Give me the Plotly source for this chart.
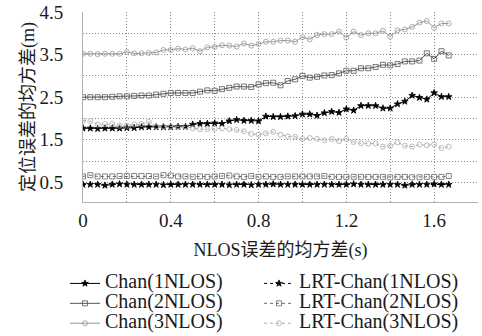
import plotly.graph_objects as go

x_vals = [i / 30 for i in range(51)]

chan1 = [1.77, 1.77, 1.76, 1.77, 1.77, 1.77, 1.78, 1.78, 1.80, 1.80,
         1.80, 1.80, 1.80, 1.81, 1.81, 1.86, 1.88, 1.88, 1.89, 1.88,
         1.94, 1.97, 1.95, 1.95, 1.94, 2.05, 2.04, 2.04, 2.05, 2.06,
         2.10, 2.10, 2.07, 2.13, 2.16, 2.14, 2.22, 2.19, 2.30, 2.30,
         2.30, 2.24, 2.24, 2.34, 2.40, 2.54, 2.49, 2.45, 2.60, 2.51,
         2.51]
chan2 = [2.50, 2.50, 2.50, 2.50, 2.51, 2.52, 2.52, 2.53, 2.54, 2.54,
         2.56, 2.58, 2.60, 2.60, 2.60, 2.60, 2.63, 2.66, 2.65, 2.69,
         2.72, 2.75, 2.75, 2.74, 2.80, 2.83, 2.84, 2.78, 2.88, 2.92,
         3.00, 2.96, 2.98, 3.01, 3.02, 3.06, 3.12, 3.12, 3.18, 3.18,
         3.21, 3.26, 3.25, 3.28, 3.34, 3.34, 3.36, 3.53, 3.40, 3.58,
         3.48]
chan3 = [3.52, 3.52, 3.51, 3.52, 3.52, 3.52, 3.56, 3.53, 3.53, 3.54,
         3.55, 3.61, 3.61, 3.64, 3.62, 3.65, 3.58, 3.67, 3.68, 3.72,
         3.71, 3.69, 3.76, 3.71, 3.75, 3.80, 3.80, 3.83, 3.83, 3.80,
         3.91, 3.86, 3.96, 3.98, 3.98, 4.04, 3.90, 4.04, 3.96, 4.00,
         4.00, 4.06, 3.92, 4.07, 4.09, 4.15, 4.25, 4.29, 4.13, 4.23,
         4.23]
lrt1 = [0.45, 0.45, 0.45, 0.43, 0.45, 0.46, 0.45, 0.45, 0.45, 0.45,
        0.45, 0.44, 0.45, 0.45, 0.45, 0.45, 0.45, 0.45, 0.45, 0.45,
        0.44, 0.45, 0.45, 0.44, 0.45, 0.45, 0.46, 0.45, 0.45, 0.45,
        0.45, 0.45, 0.45, 0.45, 0.45, 0.45, 0.45, 0.46, 0.45, 0.45,
        0.45, 0.45, 0.45, 0.45, 0.43, 0.45, 0.45, 0.45, 0.46, 0.45,
        0.45]
lrt2 = [0.64, 0.67, 0.64, 0.64, 0.64, 0.65, 0.65, 0.65, 0.65, 0.65,
        0.64, 0.67, 0.66, 0.64, 0.64, 0.63, 0.64, 0.63, 0.64, 0.65,
        0.66, 0.64, 0.63, 0.65, 0.63, 0.64, 0.63, 0.63, 0.64, 0.64,
        0.64, 0.64, 0.64, 0.65, 0.63, 0.63, 0.63, 0.63, 0.63, 0.63,
        0.63, 0.63, 0.62, 0.63, 0.63, 0.62, 0.62, 0.63, 0.63, 0.63,
        0.65]
lrt3 = [1.95, 1.94, 1.86, 1.87, 1.87, 1.83, 1.83, 1.86, 1.87, 1.92,
        1.81, 1.81, 1.81, 1.81, 1.81, 1.77, 1.75, 1.75, 1.76, 1.77,
        1.75, 1.73, 1.70, 1.64, 1.62, 1.65, 1.69, 1.62, 1.58, 1.57,
        1.52, 1.54, 1.52, 1.49, 1.52, 1.47, 1.52, 1.45, 1.42, 1.41,
        1.41, 1.34, 1.36, 1.44, 1.36, 1.34, 1.39, 1.37, 1.39, 1.31,
        1.34]

names = ["Chan(1NLOS)", "Chan(2NLOS)", "Chan(3NLOS)",
         "LRT-Chan(1NLOS)", "LRT-Chan(2NLOS)", "LRT-Chan(3NLOS)"]

x_tickvals = [0, 0.2, 0.4, 0.6, 0.8, 1.0, 1.2, 1.4, 1.6, 1.8]
x_ticktext = ["0", "", "0.4", "", "0.8", "", "1.2", "", "1.6", ""]
y_tickvals = [0.5, 1.0, 1.5, 2.0, 2.5, 3.0, 3.5, 4.0, 4.5]
y_ticktext = ["0.5", "", "1.5", "", "2.5", "", "3.5", "", "4.5"]

FONT = "Liberation Serif, Noto Sans CJK SC, serif"
TXT = "#1a1a1a"

styles = [
    (chan1, "#000000", "solid", "star", 5, "legend"),
    (chan2, "#555555", "solid", "square-open", 5, "legend"),
    (chan3, "#999999", "solid", "circle-open", 5, "legend"),
    (lrt1, "#000000", "dot", "star", 5, "legend2"),
    (lrt2, "#666666", "dot", "square-open", 5, "legend2"),
    (lrt3, "#aaaaaa", "dot", "circle-open", 5, "legend2"),
]

fig = go.Figure()
for name, (ys, col, dash, sym, size, lg) in zip(names, styles):
    fig.add_trace(go.Scatter(
        x=x_vals, y=ys, mode="lines+markers",
        name='<span style="font-size:20px">' + name + '</span>',
        line=dict(color=col, width=1, dash=dash),
        marker=dict(symbol=sym, size=size, color=col,
                    line=dict(color=col, width=0.8)),
        legend=lg,
    ))

legend_common = dict(
    orientation="h", xref="container", yref="container",
    y=0.201, xanchor="left", yanchor="top",
    entrywidth=200, entrywidthmode="pixels",
    font=dict(size=13, family=FONT, color=TXT),
    bgcolor="rgba(0,0,0,0)", tracegroupgap=0,
)

fig.update_layout(
    width=482, height=336,
    margin=dict(l=83, r=4, t=12, b=134, autoexpand=False),
    paper_bgcolor="white", plot_bgcolor="white",
    font=dict(family=FONT, size=19, color=TXT),
    showlegend=True,
    legend=dict(x=65 / 482, **legend_common),
    legend2=dict(x=259 / 482, **legend_common),
)
fig.update_xaxes(
    range=[0, 1.8], tickvals=x_tickvals, ticktext=x_ticktext,
    showgrid=True, gridcolor="#8a8a8a", griddash="1px,2px", gridwidth=1,
    showline=True, linecolor="#b0b0b0", linewidth=1, zeroline=False,
    ticks="", ticklabelstandoff=1, automargin=False,
    ticklabeloverflow="allow",
    tickfont=dict(size=19, family=FONT, color=TXT),
    title=dict(text="NLOS误差的均方差(s)",
               font=dict(size=18, family=FONT, color=TXT), standoff=13),
)
fig.update_yaxes(
    range=[0.04, 4.5], tickvals=y_tickvals, ticktext=y_ticktext,
    showgrid=True, gridcolor="#8a8a8a", griddash="1px,2px", gridwidth=1,
    showline=True, linecolor="#b0b0b0", linewidth=1, zeroline=False,
    ticks="", ticklabelstandoff=15, automargin=False,
    ticklabeloverflow="allow",
    tickfont=dict(size=19, family=FONT, color=TXT),
    title=dict(text="定位误差的均方差(m)",
               font=dict(size=18, family=FONT, color=TXT), standoff=0),
)

fig.write_html("out.html",
               config={"displayModeBar": False},
               post_script="document.body.style.margin='0px';")
